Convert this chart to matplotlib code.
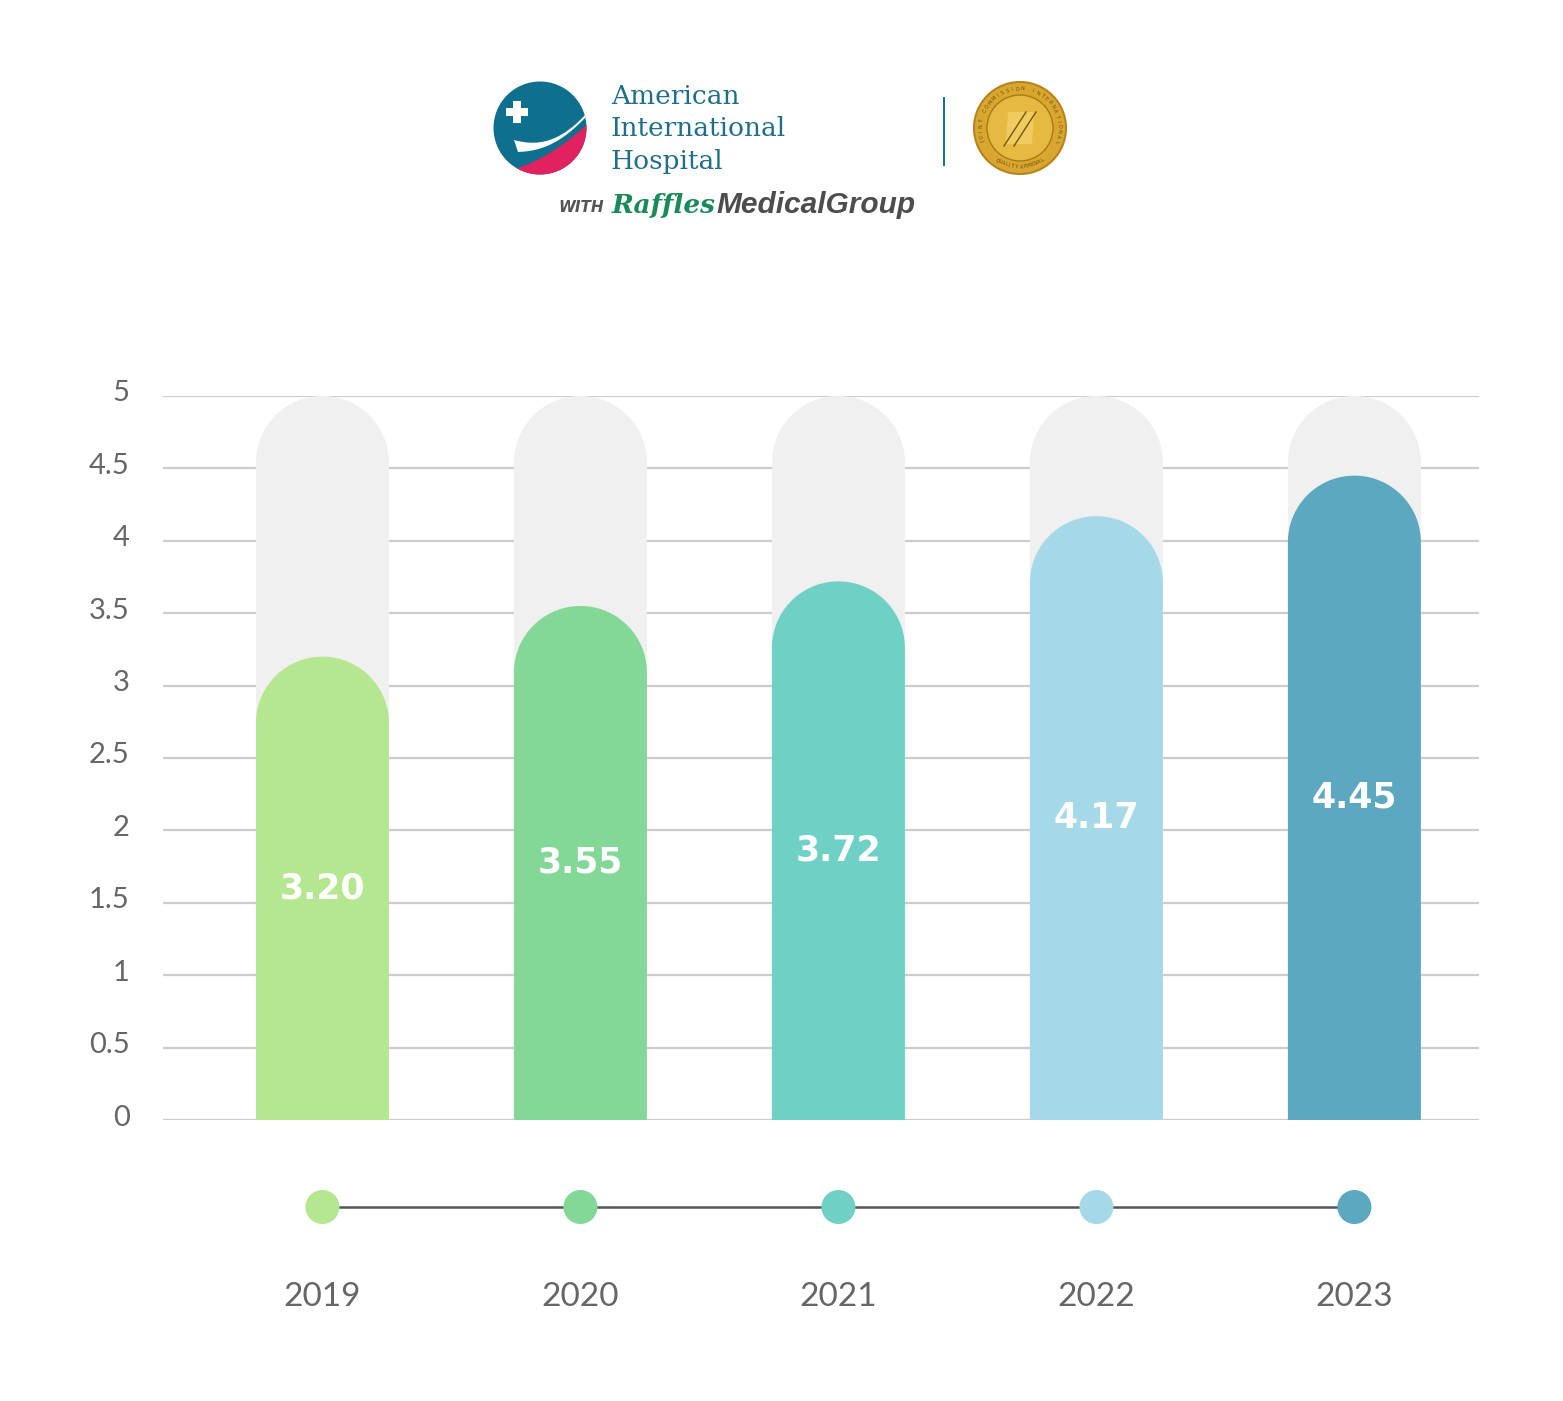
import numpy as np
import matplotlib
matplotlib.use("Agg")
from matplotlib import pyplot as plt
from matplotlib.patches import Circle, Polygon
import matplotlib.transforms as mtransforms

years = ['2019', '2020', '2021', '2022', '2023']
values = [3.20, 3.55, 3.72, 4.17, 4.45]
labels = ['3.20', '3.55', '3.72', '4.17', '4.45']
colors = ['#b5e690', '#84d897', '#6fd1c5', '#a6d9e7', '#5ba8c0']
y_max = 5
y_ticks = [0, 0.5, 1, 1.5, 2, 2.5, 3, 3.5, 4, 4.5, 5]
tick_labels = ['0', '0.5', '1', '1.5', '2', '2.5', '3', '3.5', '4', '4.5', '5']

W, H = 1563, 1401
fig = plt.figure(figsize=(W / 100, H / 100), dpi=100)
fig.patch.set_facecolor('white')

# main axes, placed in pixels
left, right, top, bottom = 163, 1479, 396, 1120
ax = fig.add_axes([left / W, (H - bottom) / H, (right - left) / W, (bottom - top) / H])
x = np.arange(len(years))
ax.set_xlim(-0.618, 4.483)
ax.set_ylim(0, y_max)

bar_w = 0.5155
px_x = (right - left) / (4.483 + 0.618)
px_y = (bottom - top) / y_max
rx = bar_w / 2
ry = rx * px_x / px_y


def pill(xc, h, color, z):
    t = np.linspace(0, np.pi, 80)
    xs = [xc - rx, xc - rx] + list(xc - rx * np.cos(t)) + [xc + rx]
    ys = [0, h - ry] + list(h - ry + ry * np.sin(t)) + [0]
    ax.add_patch(Polygon(np.column_stack([xs, ys]), closed=True, facecolor=color,
                         edgecolor='none', zorder=z))


for i, v in enumerate(values):
    pill(x[i], y_max, '#f0f0f0', 2)
    pill(x[i], v, colors[i], 3)
    ax.text(x[i], v / 2, labels[i], ha='center', va='center', color='white',
            fontsize=25, fontweight='bold', family='DejaVu Sans', zorder=4)

for t in y_ticks:
    ax.axhline(t, color='#cccccc', lw=1.6, zorder=1)

ax.set_yticks(y_ticks)
ax.set_yticklabels(tick_labels, fontsize=21, color='#666666', fontweight='normal',
                   family=['Lato', 'DejaVu Sans'])
ax.tick_params(axis='y', length=0, pad=24)
lift = mtransforms.ScaledTranslation(0, 5 / 100, fig.dpi_scale_trans)
for lab in ax.get_yticklabels():
    lab.set_transform(lab.get_transform() + lift)
ax.set_xticks([])
for s in ax.spines.values():
    s.set_visible(False)

# timeline under the chart
ax2 = fig.add_axes([left / W, (H - 1340) / H, (right - left) / W, 190 / H])
ax2.set_xlim(ax.get_xlim())
ax2.set_ylim(0, 190)
ax2.axis('off')
ax2.plot(x, [133] * len(x), color='#555555', lw=1.8, zorder=1)
ax2.scatter(x, [133] * len(x), s=24.5 ** 2, c=colors, zorder=2, linewidths=0)
for i, yr in enumerate(years):
    ax2.text(x[i], 43, yr, ha='center', va='center', fontsize=24, color='#666666',
             fontweight='normal', family=['Lato', 'DejaVu Sans'])

# header logos, pixel coordinates
lg = fig.add_axes([0, 0, 1, 1], zorder=-1)
lg.set_xlim(0, W)
lg.set_ylim(H, 0)
lg.axis('off')

blue = '#0e6f8f'
pink = '#e2215f'
circ = Circle((540, 128), 46.5, facecolor=blue, edgecolor='none')
lg.add_patch(circ)
s = np.linspace(0, 1, 30)
# pink lower-right region
px = 512 + 85 * s
py = 170 - 25 * s - 30 * s ** 2
pk = Polygon(np.column_stack([list(px) + [600, 500], list(py) + [190, 190]]),
             closed=True, facecolor=pink, edgecolor='none')
lg.add_patch(pk)
pk.set_clip_path(circ)
# white swoosh between two curves
ux = 514 + 82 * s
uy = 140 + 8 * np.sin(np.pi * s * 0.9) - 40 * s ** 2
lx = (518 + 78 * s)[::-1]
ly = (152 + 6 * np.sin(np.pi * s) - 22 * s - 24 * s ** 2)[::-1]
sw = Polygon(np.column_stack([list(ux) + list(lx), list(uy) + list(ly)]),
             closed=True, facecolor='white', edgecolor='none')
lg.add_patch(sw)
sw.set_clip_path(circ)
lg.add_patch(Polygon([(513, 101), (521, 101), (521, 108), (528, 108), (528, 116), (521, 116),
                      (521, 123), (513, 123), (513, 116), (506, 116), (506, 108), (513, 108)],
                     closed=True, facecolor='white', edgecolor='none', joinstyle='round'))

for j, word in enumerate(['American', 'International', 'Hospital']):
    lg.text(611, 96 + 33 * j, word, ha='left', va='center', fontsize=19,
            color='#1f6f8b', family='DejaVu Serif')
lg.text(558, 208, 'WITH', ha='left', va='center', fontsize=11, fontweight='bold',
        style='italic', color='#555555', family='DejaVu Sans')
lg.text(612, 205, 'Raffles', ha='left', va='center', fontsize=19, fontweight='bold',
        style='italic', color='#1a8a5a', family='DejaVu Serif')
lg.text(916, 205, 'MedicalGroup', ha='right', va='center', fontsize=21.5, fontweight='bold',
        style='italic', color='#4d4d4d', family='Liberation Sans')

lg.plot([944, 944], [98, 165], color=blue, lw=1.4)

# gold seal
lg.add_patch(Circle((1020, 128), 46, facecolor='#d9a630', edgecolor='#b5841a', lw=1.5))
lg.add_patch(Circle((1020, 128), 33, facecolor='#e6b940', edgecolor='#a87a14', lw=1))
lg.add_patch(Polygon([(1008, 112), (1034, 112), (1032, 144), (1006, 144)], closed=True,
                     facecolor='#f0cc60', edgecolor='none'))
lg.plot([1004, 1026], [146, 112], color='#7a5508', lw=1)
lg.plot([1014, 1036], [146, 112], color='#7a5508', lw=1)
txt = 'JOINT COMMISSION INTERNATIONAL'
angs = np.linspace(200, -20, len(txt))
for ch, a in zip(txt, angs):
    r = np.deg2rad(a)
    lg.text(1020 + 39 * np.cos(r), 128 - 39 * np.sin(r), ch, ha='center', va='center',
            fontsize=3.5, color='#6b4c08', rotation=a - 90)
txt2 = 'QUALITY APPROVAL'
angs2 = np.linspace(235, 305, len(txt2))
for ch, a in zip(txt2, angs2):
    r = np.deg2rad(a)
    lg.text(1020 + 39 * np.cos(r), 128 - 39 * np.sin(r), ch, ha='center', va='center',
            fontsize=3.5, color='#6b4c08', rotation=a + 90)

fig.savefig('out.png', dpi=100, facecolor='white')
